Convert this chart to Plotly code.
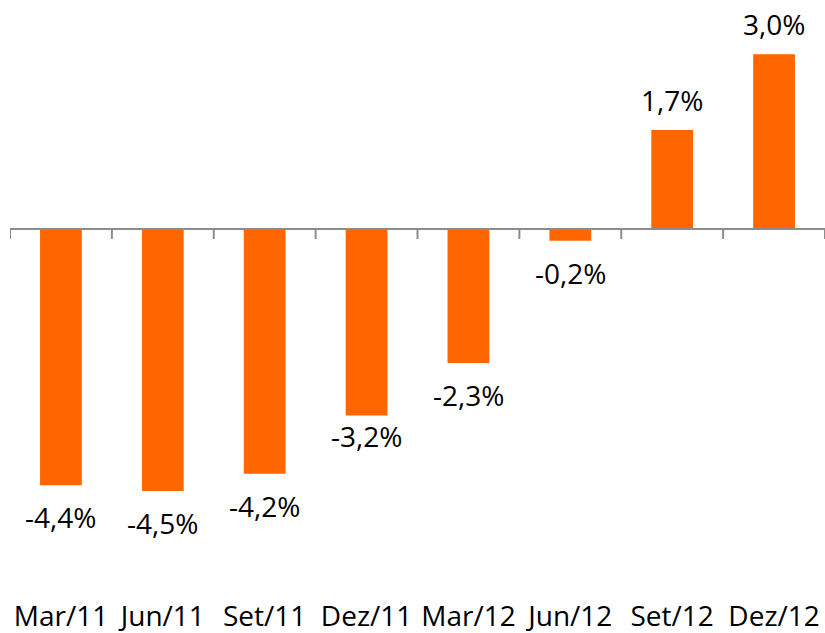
import plotly.graph_objects as go

categories = ["Mar/11", "Jun/11", "Set/11", "Dez/11", "Mar/12", "Jun/12", "Set/12", "Dez/12"]
values = [-4.4, -4.5, -4.2, -3.2, -2.3, -0.2, 1.7, 3.0]

BAR_COLOR = "#FF6600"
AXIS_COLOR = "#8C8C8C"
FONT = "Open Sans"
FS = 28

fig = go.Figure()
fig.add_trace(go.Bar(
    x=list(range(len(categories))),
    y=values,
    marker=dict(color=BAR_COLOR, line=dict(width=0)),
    width=0.41,
    hoverinfo="skip",
))

# data labels
shift_override = {3: -21}
for i, v in enumerate(values):
    txt = f"{v:.1f}".replace(".", ",") + "%"
    ys = 30 if v >= 0 else -32
    ys = shift_override.get(i, ys)
    fig.add_annotation(x=i, y=v, text=txt, showarrow=False, yshift=ys,
                       font=dict(family=FONT, size=FS, color="#000000"))

# zero axis line with tick marks between categories
fig.add_shape(type="line", xref="paper", yref="y", x0=0, x1=1, y0=0, y1=0,
              line=dict(color=AXIS_COLOR, width=2))
for k in range(len(categories) + 1):
    fig.add_shape(type="line", xref="x", yref="y", ysizemode="pixel", yanchor=0,
                  x0=k - 0.5, x1=k - 0.5, y0=0, y1=-10,
                  line=dict(color=AXIS_COLOR, width=2))

fig.update_layout(
    width=825, height=633,
    margin=dict(l=10, r=0, t=0, b=36, autoexpand=False),
    paper_bgcolor="white", plot_bgcolor="white",
    showlegend=False,
    font=dict(family=FONT, size=FS, color="#000000"),
    xaxis=dict(range=[-0.5, len(categories) - 0.5], tickmode="array",
               tickvals=list(range(len(categories))), ticktext=categories,
               showgrid=False, zeroline=False, showline=False, ticks="",
               automargin=False, ticklabelstandoff=0,
               tickfont=dict(family=FONT, size=FS, color="#000000")),
    yaxis=dict(range=[-6.318, 3.931], showgrid=False, zeroline=False,
               showline=False, showticklabels=False, ticks="", automargin=False),
)

fig.write_html("out.html", config={"displayModeBar": False},
               post_script="document.body.style.margin='0';document.body.style.overflow='hidden';")
